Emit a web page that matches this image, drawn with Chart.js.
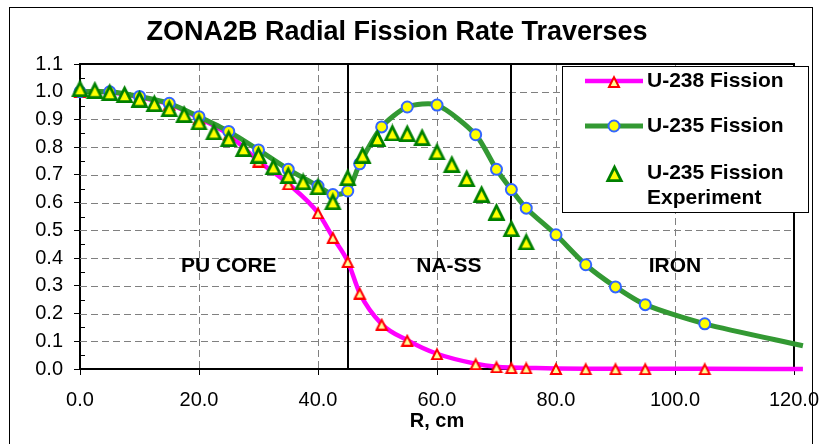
<!DOCTYPE html>
<html>
<head>
<meta charset="utf-8">
<script src="https://cdn.jsdelivr.net/npm/chart.js@4.4.0/dist/chart.umd.min.js"></script>
<style>
  html, body { margin: 0; padding: 0; background: #fff; }
  #wrap { width: 820px; height: 444px; position: relative; }
</style>
</head>
<body>
<div id="wrap"><canvas id="fissionChart" width="820" height="444"></canvas></div>
<script>
// radius (cm) and relative fission rate
const u238R = [0, 5, 10, 15, 20, 25, 30, 35, 40, 42.5, 45, 47, 50.7, 55, 60, 66.5, 70, 72.5, 75, 80, 85, 90, 95, 105, 121.5];
const u238Fission = [1.0, 0.998, 0.98, 0.955, 0.905, 0.845, 0.75, 0.668, 0.563, 0.475, 0.388, 0.274, 0.162, 0.104, 0.055, 0.019, 0.008, 0.005, 0.004, 0.002, 0.001, 0.001, 0.001, 0.001, 0.0];

const u235R = [0, 5, 10, 15, 20, 25, 30, 35, 40, 42.5, 45, 47, 50.7, 55, 60, 66.5, 70, 72.5, 75, 80, 85, 90, 95, 105, 121.5];
const u235Fission = [1.0, 1.0, 0.983, 0.958, 0.91, 0.857, 0.79, 0.72, 0.66, 0.629, 0.642, 0.74, 0.873, 0.945, 0.952, 0.845, 0.72, 0.647, 0.58, 0.484, 0.376, 0.296, 0.232, 0.163, 0.084];

const expR = [0, 2.5, 5, 7.5, 10, 12.5, 15, 17.5, 20, 22.5, 25, 27.5, 30, 32.5, 35, 37.5, 40, 42.5, 45, 47.5, 50, 52.5, 55, 57.5, 60, 62.5, 65, 67.5, 70, 72.5, 75];
const expFission = [1.013, 1.007, 0.999, 0.992, 0.975, 0.959, 0.941, 0.92, 0.893, 0.857, 0.833, 0.797, 0.773, 0.731, 0.70, 0.677, 0.659, 0.605, 0.692, 0.773, 0.833, 0.853, 0.851, 0.837, 0.785, 0.74, 0.689, 0.632, 0.568, 0.508, 0.46];

const zoneBounds = [45, 72.5];
const zoneNames = ['PU CORE', 'NA-SS', 'IRON'];
const zoneLabelR = [25, 62, 100];
const zoneLabelLevel = 0.37;

const legendLines = [['U-238 Fission'], ['U-235 Fission'], ['U-235 Fission', 'Experiment']];

const FONT = "'Liberation Sans', Arial, sans-serif";

function toPoints(xs, ys) {
    return xs.map((x, i) => ({ x: x, y: ys[i] }));
}

// excel style triangle marker (centred on its box)
function triangleMarker(w, h, fill, stroke, lw) {
    const c = document.createElement('canvas');
    c.width = w;
    c.height = h;
    const g = c.getContext('2d');
    g.beginPath();
    g.moveTo(w / 2, lw * 1.15);
    g.lineTo(w - lw, h - lw / 2);
    g.lineTo(lw, h - lw / 2);
    g.closePath();
    g.fillStyle = fill;
    g.fill();
    g.lineWidth = lw;
    g.lineJoin = 'miter';
    g.strokeStyle = stroke;
    g.stroke();
    return c;
}

const redTri = triangleMarker(14, 13, '#ffff99', '#ff0000', 2);
const greenTri = triangleMarker(19, 18, '#ffff00', '#008000', 2.75);

const hideLast = (ctx, r) => ctx.dataIndex === ctx.dataset.data.length - 1 ? 0 : r;

const framePlugin = {
    id: 'frame',
    beforeDraw(chart) {
        const ctx = chart.ctx;
        ctx.save();
        ctx.fillStyle = '#fff';
        ctx.fillRect(0, 0, chart.width, chart.height);
        ctx.restore();
    },
    beforeDatasetsDraw(chart) {
        const { ctx, chartArea: a, scales: { x, y } } = chart;
        ctx.save();
        // dashed grid, inner ticks only
        ctx.strokeStyle = '#808080';
        ctx.lineWidth = 1;
        ctx.setLineDash([7, 4]);
        ctx.beginPath();
        x.ticks.slice(1, -1).forEach(t => {
            const px = Math.round(x.getPixelForValue(t.value)) + 0.5;
            ctx.moveTo(px, a.top);
            ctx.lineTo(px, a.bottom);
        });
        y.ticks.slice(1, -1).forEach(t => {
            const py = Math.round(y.getPixelForValue(t.value)) + 0.5;
            ctx.moveTo(a.left, py);
            ctx.lineTo(a.right, py);
        });
        ctx.stroke();
        ctx.setLineDash([]);
        // minor ticks inside the y axis
        ctx.strokeStyle = '#000';
        ctx.beginPath();
        for (let v = 0.05; v < 1.1; v += 0.1) {
            const py = Math.round(y.getPixelForValue(v)) + 0.5;
            ctx.moveTo(a.left, py);
            ctx.lineTo(a.left + 5, py);
        }
        ctx.stroke();
        // plot frame top / right and zone boundaries
        ctx.lineWidth = 2;
        ctx.beginPath();
        ctx.moveTo(a.left, a.top);
        ctx.lineTo(a.right, a.top);
        ctx.lineTo(a.right, a.bottom);
        zoneBounds.forEach(b => {
            const px = Math.round(x.getPixelForValue(b));
            ctx.moveTo(px, a.top);
            ctx.lineTo(px, a.bottom);
        });
        ctx.stroke();
        // zone names
        ctx.fillStyle = '#000';
        ctx.font = 'bold 21px ' + FONT;
        ctx.textAlign = 'center';
        ctx.textBaseline = 'middle';
        zoneNames.forEach((n, i) => {
            ctx.fillText(n, x.getPixelForValue(zoneLabelR[i]), y.getPixelForValue(zoneLabelLevel));
        });
        ctx.restore();
    },
    afterDraw(chart) {
        const ctx = chart.ctx;
        const ds = chart.data.datasets;
        ctx.save();
        // legend box
        ctx.fillStyle = '#fff';
        ctx.fillRect(562, 66, 246, 146);
        ctx.strokeStyle = '#000';
        ctx.lineWidth = 1;
        ctx.strokeRect(562.5, 66.5, 246, 146);
        const rows = [81, 126, 173];
        ctx.font = 'bold 21px ' + FONT;
        ctx.textAlign = 'left';
        ctx.textBaseline = 'middle';
        ds.forEach((d, i) => {
            const cy = rows[i];
            if (d.showLine !== false) {
                ctx.strokeStyle = d.borderColor;
                ctx.lineWidth = d.borderWidth;
                ctx.beginPath();
                ctx.moveTo(585, cy);
                ctx.lineTo(643, cy);
                ctx.stroke();
            }
            if (d.pointStyle instanceof HTMLCanvasElement) {
                const img = d.pointStyle;
                ctx.drawImage(img, Math.round(614 - img.width / 2), Math.round(cy - img.height / 2));
            } else {
                ctx.beginPath();
                ctx.arc(614, cy, 5.5, 0, Math.PI * 2);
                ctx.fillStyle = d.pointBackgroundColor;
                ctx.fill();
                ctx.lineWidth = d.pointBorderWidth;
                ctx.strokeStyle = d.pointBorderColor;
                ctx.stroke();
            }
            ctx.fillStyle = '#000';
            legendLines[i].forEach((t, k) => ctx.fillText(t, 647, cy + k * 25));
        });
        // outer chart border
        ctx.strokeStyle = '#000';
        ctx.lineWidth = 1;
        ctx.strokeRect(9.5, 7.5, 803, 470);
        ctx.restore();
    }
};

const gridOpts = { drawOnChartArea: false, tickLength: 6, tickColor: '#000', tickWidth: 1 };

new Chart(document.getElementById('fissionChart'), {
    type: 'scatter',
    data: {
        datasets: [{
            label: 'U-238 Fission',
            data: toPoints(u238R, u238Fission),
            showLine: true,
            borderColor: '#ff00ff',
            borderWidth: 4.5,
            cubicInterpolationMode: 'monotone',
            pointStyle: redTri,
            pointRadius: (ctx) => hideLast(ctx, 7),
            order: 3,
            clip: 12
        }, {
            label: 'U-235 Fission',
            data: toPoints(u235R, u235Fission),
            showLine: true,
            borderColor: '#339933',
            borderWidth: 5,
            tension: 0.25,
            pointStyle: 'circle',
            pointRadius: (ctx) => hideLast(ctx, 5.5),
            pointBackgroundColor: '#ffff00',
            pointBorderColor: '#3366ff',
            pointBorderWidth: 2,
            order: 2,
            clip: 12
        }, {
            label: 'U-235 Fission Experiment',
            data: toPoints(expR, expFission),
            showLine: false,
            pointStyle: greenTri,
            pointRadius: 9,
            order: 1,
            clip: 12
        }]
    },
    options: {
        responsive: false,
        animation: false,
        events: [],
        layout: { padding: { left: 0, right: 26, top: 0, bottom: 0 } },
        plugins: {
            legend: { display: false },
            tooltip: { enabled: false },
            title: {
                display: true,
                text: 'ZONA2B Radial Fission Rate Traverses',
                color: '#000',
                font: { family: FONT, size: 27, weight: 'bold' },
                padding: { top: 16, bottom: 15.6 }
            }
        },
        scales: {
            x: {
                type: 'linear',
                min: 0,
                max: 120,
                afterFit: (s) => { s.height = 75; s.paddingLeft = 0; s.paddingRight = 0; },
                ticks: {
                    stepSize: 20,
                    color: '#000',
                    padding: 13,
                    font: { family: FONT, size: 20 },
                    callback: (v) => v.toFixed(1)
                },
                grid: gridOpts,
                border: { display: true, color: '#000', width: 2 },
                title: {
                    display: true,
                    text: 'R, cm',
                    color: '#000',
                    font: { family: FONT, size: 20, weight: 'bold' },
                    padding: { top: 0, bottom: 11 }
                }
            },
            y: {
                type: 'linear',
                min: 0,
                max: 1.1,
                afterFit: (s) => { s.width = 80; },
                ticks: {
                    stepSize: 0.1,
                    color: '#000',
                    padding: 11,
                    font: { family: FONT, size: 20 },
                    callback: (v) => v.toFixed(1)
                },
                grid: gridOpts,
                border: { display: true, color: '#000', width: 2 }
            }
        }
    },
    plugins: [framePlugin]
});
</script>
</body>
</html>
